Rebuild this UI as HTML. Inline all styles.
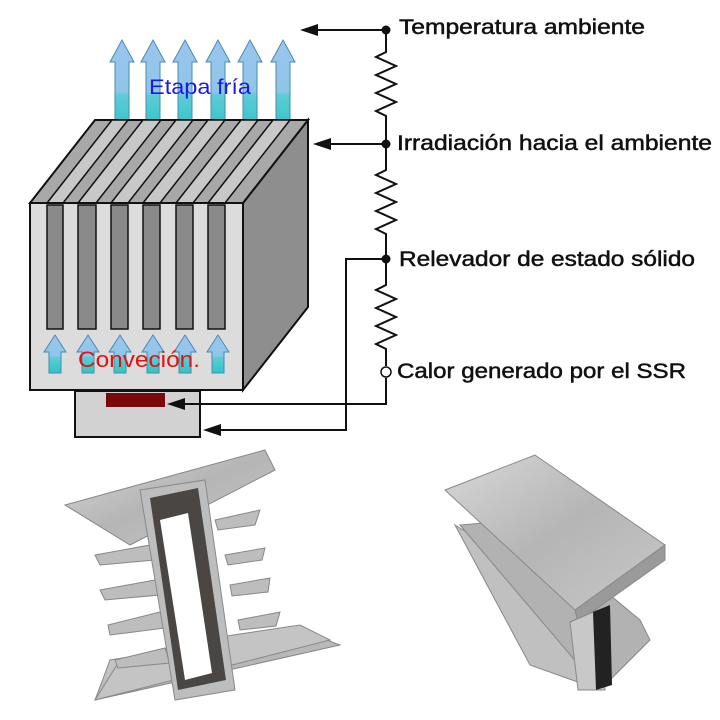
<!DOCTYPE html>
<html><head><meta charset="utf-8"><style>
html,body{margin:0;padding:0;background:#fff;}
svg{display:block;}
text{font-family:"Liberation Sans",sans-serif;}
</style></head><body>
<svg width="720" height="720" viewBox="0 0 720 720" xmlns="http://www.w3.org/2000/svg">
<defs>
<linearGradient id="ar" x1="0" y1="0" x2="0" y2="1">
<stop offset="0" stop-color="#9cc4ee"/><stop offset="0.55" stop-color="#8ec6e8"/><stop offset="0.6" stop-color="#5ccbd4"/><stop offset="1" stop-color="#2fc4c8"/>
</linearGradient>
<linearGradient id="al" x1="0" y1="0" x2="1" y2="1">
<stop offset="0" stop-color="#d8d8d8"/><stop offset="0.5" stop-color="#b5b5b5"/><stop offset="1" stop-color="#c8c8c8"/>
</linearGradient>
</defs>
<g fill="url(#ar)" stroke="#4a8ab0" stroke-width="1">
<path d="M115,133 V62 H110 L122,40 L134,62 H129 V133Z"/>
<path d="M146,133 V62 H141 L153,40 L165,62 H160 V133Z"/>
<path d="M178,133 V62 H173 L185,40 L197,62 H192 V133Z"/>
<path d="M211,133 V62 H206 L218,40 L230,62 H225 V133Z"/>
<path d="M243,133 V62 H238 L250,40 L262,62 H257 V133Z"/>
<path d="M276,133 V62 H271 L283,40 L295,62 H290 V133Z"/>
</g>
<path d="M243,203 L308,120 L308,307 L243,390Z" fill="#8e8e8e" stroke="#111" stroke-width="2"/>
<path d="M30,203 L95,120 L308,120 L243,203Z" fill="#a8a8a8" stroke="#111" stroke-width="2"/>
<g stroke="#111" stroke-width="1.5" fill="#c8c8c8">
<path d="M47,203 L112,120 L128,120 L63,203Z"/>
<path d="M78,203 L143,120 L161,120 L96,203Z"/>
<path d="M111,203 L176,120 L193,120 L128,203Z"/>
<path d="M143,203 L208,120 L225,120 L160,203Z"/>
<path d="M176,203 L241,120 L258,120 L193,203Z"/>
<path d="M208,203 L273,120 L290,120 L225,203Z"/>
</g>
<rect x="30" y="203" width="213" height="187" fill="#dcdcdc" stroke="#111" stroke-width="2"/>
<g fill="#8a8a8a" stroke="#111" stroke-width="1.5">
<rect x="47" y="205" width="16" height="124"/>
<rect x="78" y="205" width="18" height="124"/>
<rect x="111" y="205" width="17" height="124"/>
<rect x="143" y="205" width="17" height="124"/>
<rect x="176" y="205" width="17" height="124"/>
<rect x="208" y="205" width="17" height="124"/>
</g>
<g fill="url(#ar)" stroke="#4a8ab0" stroke-width="1">
<path d="M49,373 V352 H44 L55,335 L66,352 H61 V373Z"/>
<path d="M82,373 V352 H77 L88,335 L99,352 H94 V373Z"/>
<path d="M114,373 V352 H109 L120,335 L131,352 H126 V373Z"/>
<path d="M147,373 V352 H142 L153,335 L164,352 H159 V373Z"/>
<path d="M179,373 V352 H174 L185,335 L196,352 H191 V373Z"/>
<path d="M212,373 V352 H207 L218,335 L229,352 H224 V373Z"/>
</g>
<text x="149" y="94" font-size="21" fill="#1a1ae6" textLength="102" lengthAdjust="spacingAndGlyphs">Etapa fría</text>
<text x="78" y="367" font-size="22" fill="#e61010" textLength="122" lengthAdjust="spacingAndGlyphs">Conveción.</text>
<rect x="75" y="391" width="125" height="46" fill="#d2d2d2" stroke="#111" stroke-width="2"/>
<rect x="106" y="393" width="59" height="14" fill="#7a0a0a"/>
<g stroke="#111" stroke-width="2" fill="none">
<path d="M386,30 V52 L376,57 L396,66 L376,75 L396,84 L376,93 L396,102 L376,111 L386,116 V170 L376,175 L396,184 L376,193 L396,202 L376,211 L396,220 L376,229 L386,234 V285 L376,290 L396,299 L376,308 L396,317 L376,326 L396,335 L376,344 L386,349 V366"/>
<path d="M386,30 H315"/>
<path d="M386,144 H325"/>
<path d="M386,259 H346 V430 H215"/>
<path d="M386,378 V404 H178"/>
</g>
<g fill="#111">
<path d="M300,30 L318,24 L318,36Z"/>
<path d="M313,144 L331,138 L331,150Z"/>
<path d="M203,430 L221,424 L221,436Z"/>
<path d="M167,404 L185,398 L185,410Z"/>
<circle cx="386" cy="30" r="4.5"/><circle cx="386" cy="144" r="4.5"/><circle cx="386" cy="259" r="4.5"/>
</g>
<circle cx="386" cy="372" r="5" fill="#fff" stroke="#111" stroke-width="1.5"/>
<g font-size="21" fill="#111" stroke="#111" stroke-width="0.5">
<text x="399" y="34" textLength="246" lengthAdjust="spacingAndGlyphs">Temperatura ambiente</text>
<text x="397" y="150" textLength="315" lengthAdjust="spacingAndGlyphs">Irradiación hacia el ambiente</text>
<text x="399" y="266" textLength="296" lengthAdjust="spacingAndGlyphs">Relevador de estado sólido</text>
<text x="397" y="378" textLength="289" lengthAdjust="spacingAndGlyphs">Calor generado por el SSR</text>
</g>
<!-- left photo heatsink -->
<g stroke="#888" stroke-width="1">
<path d="M65,505 L265,450 L275,470 L130,545Z" fill="url(#al)"/>
<path d="M95,700 L340,645 L300,630 L110,660Z" fill="url(#al)"/>
<path d="M95,700 L120,660 L200,640 L300,625 L330,640Z" fill="#c4c4c4"/>
<g fill="#bdbdbd">
<path d="M95,555 L150,545 L155,560 L100,565Z"/><path d="M100,590 L155,580 L160,595 L105,600Z"/>
<path d="M108,625 L160,612 L165,628 L110,635Z"/><path d="M115,660 L165,648 L170,663 L118,668Z"/>
<path d="M215,520 L260,510 L255,525 L218,530Z"/><path d="M225,555 L265,548 L262,560 L228,565Z"/>
<path d="M230,585 L270,578 L268,592 L232,596Z"/><path d="M238,620 L280,612 L276,626 L240,630Z"/>
</g>
<path d="M140,490 L205,480 L235,690 L175,700Z" fill="#bdbdbd"/>
</g>
<path d="M150,498 L198,488 L226,680 L178,690Z" fill="#4a4644"/>
<path d="M160,520 L188,513 L212,673 L185,680Z" fill="#fff"/>
<!-- right photo heatsink -->
<g stroke="#888" stroke-width="1">
<path d="M455,525 L560,590 L600,690 L530,665Z" fill="#c0c0c0"/>
<path d="M460,525 L520,520 L640,620 L650,640 L600,690Z" fill="#b2b2b2"/>
<path d="M445,490 L535,455 L665,545 L575,610Z" fill="url(#al)"/>
<path d="M575,610 L665,545 L665,560 L578,622Z" fill="#9a9a9a"/>
<path d="M570,622 L598,610 L605,690 L578,690Z" fill="#c8c8c8"/>
</g>
<path d="M593,612 L610,605 L612,685 L596,690Z" fill="#222"/>
</svg>
</body></html>
